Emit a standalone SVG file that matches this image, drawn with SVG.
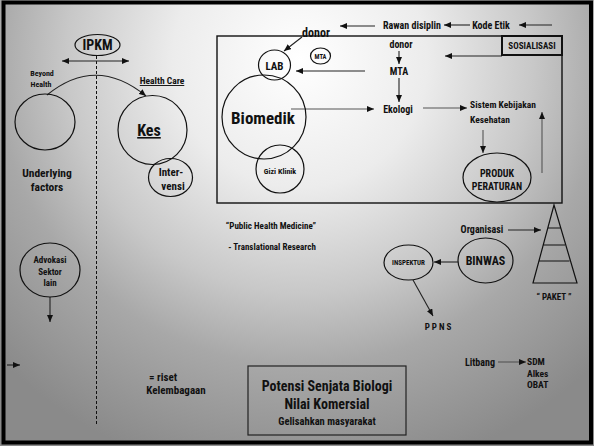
<svg xmlns="http://www.w3.org/2000/svg" width="594" height="446" viewBox="0 0 594 446">
<defs>
<radialGradient id="bg" gradientUnits="userSpaceOnUse" cx="300" cy="60" r="424">
<stop offset="0" stop-color="#ffffff"/>
<stop offset="0.3" stop-color="#ececec"/>
<stop offset="0.55" stop-color="#c8c8c8"/>
<stop offset="0.72" stop-color="#a8a8a8"/>
<stop offset="1" stop-color="#8a8a8a"/>
</radialGradient>
<marker id="arr" markerUnits="userSpaceOnUse" markerWidth="7" markerHeight="6" refX="7" refY="3" orient="auto-start-reverse">
<path d="M0,0 L7,3 L0,6 z" fill="#111"/>
</marker>
</defs>
<style>
text{font-family:"Liberation Sans Narrow","Roboto Condensed","Liberation Sans",Arial,sans-serif;font-weight:bold;fill:#111;text-anchor:middle}
.s{font-size:8px}
.m{font-size:10px}
.l{font-size:12px}
.ln{fill:none;stroke:#111;stroke-width:1.2}
.c{fill:none;stroke:#111;stroke-width:1.2}
.a{fill:none;stroke:#222;stroke-width:1.1;marker-end:url(#arr)}
.g{fill:none;stroke:#555;stroke-width:1.1;marker-end:url(#arr)}
</style>
<rect x="0" y="0" width="594" height="446" fill="url(#bg)"/>
<rect x="3.5" y="2.5" width="587.5" height="440" fill="none" stroke="#000" stroke-width="4"/>

<g id="connectors">
<line x1="96.5" y1="56" x2="96.5" y2="424" stroke="#111" stroke-width="1" stroke-dasharray="3,2"/>
<line x1="62" y1="61" x2="129" y2="61" class="a" marker-start="url(#arr)"/>
<path d="M47,95 Q96,55 146,96" class="a"/>
<line x1="50" y1="297" x2="50" y2="322" class="a"/>
<line x1="7" y1="365" x2="20" y2="365" class="a"/>
<line x1="375" y1="26" x2="340" y2="26" class="a"/>
<line x1="470" y1="25" x2="444" y2="25" class="a"/>
<line x1="552" y1="25" x2="519" y2="25" class="a"/>
<line x1="302" y1="37" x2="284" y2="51" class="a"/>
<line x1="365" y1="71" x2="296" y2="71" class="a"/>
<line x1="399" y1="51" x2="399" y2="64" class="a"/>
<line x1="399" y1="78" x2="399" y2="102" class="a"/>
<line x1="502" y1="56" x2="445" y2="56" class="a"/>
<line x1="291" y1="109" x2="374" y2="109" class="g"/>
<line x1="423" y1="108" x2="467" y2="108" class="g"/>
<line x1="483" y1="130" x2="483" y2="153" class="g"/>
<line x1="542" y1="173" x2="542" y2="112" class="g"/>
<line x1="508" y1="230" x2="541" y2="230" class="a"/>
<line x1="458" y1="262" x2="434" y2="262" class="a"/>
<line x1="413" y1="280" x2="433" y2="316" class="a"/>
<line x1="498" y1="362" x2="526" y2="362" class="g"/>
</g>

<g id="frame-box">
<rect x="217" y="36" width="345" height="167" fill="none" stroke="#111" stroke-width="1.4"/>
</g>

<g id="ipkm">
<ellipse cx="97.5" cy="45" rx="22.5" ry="10.5" class="c"/>
<text x="97.5" y="50" style="font-size:14px">IPKM</text>
</g>
<g id="beyond">
<text x="42" y="76" class="s">Beyond</text>
<text x="41" y="87" class="s">Health</text>
</g>
<g id="healthcare">
<text x="162" y="84" style="font-size:9.5px;text-decoration:underline">Health Care</text>
</g>
<g id="underlying">
<ellipse cx="45" cy="122" rx="30" ry="28" class="c"/>
<text x="47" y="177" style="font-size:11.5px">Underlying</text>
<text x="47" y="191" style="font-size:11.5px">factors</text>
</g>
<g id="kes">
<circle cx="152.5" cy="130" r="34.5" class="c"/>
<text x="149" y="136" style="font-size:16px;text-decoration:underline">Kes</text>
</g>
<g id="intervensi">
<ellipse cx="170.5" cy="177.5" rx="22" ry="19" class="c"/>
<text x="171" y="176" style="font-size:11px">Inter-</text>
<text x="173" y="190" style="font-size:11px">vensi</text>
</g>
<g id="advokasi">
<ellipse cx="50" cy="270" rx="30" ry="27" class="c"/>
<text x="50" y="263" style="font-size:9px">Advokasi</text>
<text x="50" y="275" style="font-size:9px">Sektor</text>
<text x="50" y="286" style="font-size:9px">lain</text>
</g>
<g id="riset">
<text x="163" y="381" style="font-size:11px">= riset</text>
<text x="176" y="394" style="font-size:11px">Kelembagaan</text>
</g>

<g id="donor-top">
<text x="316" y="37" style="font-size:12px">donor</text>
</g>
<g id="lab">
<ellipse cx="274.5" cy="65" rx="16" ry="15" class="c"/>
<text x="274.5" y="70" style="font-size:11px">LAB</text>
</g>
<g id="mta-circle">
<ellipse cx="320.5" cy="56" rx="10" ry="8" class="c"/>
<text x="320.5" y="59" style="font-size:6.5px">MTA</text>
</g>
<g id="biomedik">
<circle cx="264" cy="117" r="42" class="c"/>
<text x="263" y="124" style="font-size:17px">Biomedik</text>
</g>
<g id="gizi">
<circle cx="280" cy="169" r="24" class="c"/>
<text x="280" y="174" style="font-size:8px">Gizi Klinik</text>
</g>
<g id="rawan">
<text x="412" y="29" class="m">Rawan disiplin</text>
</g>
<g id="kode">
<text x="491" y="29" class="m">Kode Etik</text>
</g>
<g id="sosialisasi">
<rect x="502" y="36" width="60" height="19" fill="none" stroke="#111" stroke-width="2"/>
<text x="532" y="49" style="font-size:9px">SOSIALISASI</text>
</g>
<g id="donor-right">
<text x="401" y="48" class="m">donor</text>
</g>
<g id="mta">
<text x="399" y="75" class="m">MTA</text>
</g>
<g id="ekologi">
<text x="398" y="113" class="m">Ekologi</text>
</g>
<g id="sistem">
<text x="503" y="108" style="font-size:9.5px">Sistem Kebijakan</text>
<text x="490" y="123" style="font-size:9.5px">Kesehatan</text>
</g>
<g id="produk">
<ellipse cx="497" cy="177.5" rx="34" ry="24.5" class="c"/>
<text x="497" y="177" class="m">PRODUK</text>
<text x="497" y="190" class="m">PERATURAN</text>
</g>

<g id="phm">
<text x="271" y="229" style="font-size:9px">“Public Health Medicine”</text>
<text x="272" y="250" style="font-size:9px">- Translational Research</text>
</g>
<g id="potensi">
<rect x="248" y="366" width="158" height="69" fill="none" stroke="#222" stroke-width="1.2"/>
<text x="327" y="391" style="font-size:14px">Potensi Senjata Biologi</text>
<text x="327" y="409" style="font-size:14px">Nilai Komersial</text>
<text x="327" y="425" style="font-size:10.5px">Gelisahkan masyarakat</text>
</g>

<g id="organisasi">
<text x="482" y="233" class="m">Organisasi</text>
</g>
<g id="paket">
<path d="M554,205 L533,283 L577,283 Z M547.5,228 L560.5,228 M543,245 L565,245 M538.5,261 L569.5,261" fill="none" stroke="#111" stroke-width="1.2"/>
<text x="554" y="300" style="font-size:9px">“ PAKET ”</text>
</g>
<g id="binwas">
<ellipse cx="485.5" cy="260.5" rx="27.5" ry="22.5" class="c"/>
<text x="485.5" y="265" style="font-size:12px">BINWAS</text>
</g>
<g id="inspektur">
<ellipse cx="408.5" cy="262.5" rx="24.5" ry="17.5" class="c"/>
<text x="408.5" y="265" style="font-size:7px">INSPEKTUR</text>
</g>
<g id="ppns">
<text x="439" y="330" style="font-size:9px;letter-spacing:2px">PPNS</text>
</g>
<g id="litbang">
<text x="480" y="366" class="m">Litbang</text>
</g>
<g id="sdm">
<text x="527" y="365" style="font-size:9.5px;text-anchor:start">SDM</text>
<text x="527" y="377" style="font-size:9.5px;text-anchor:start">Alkes</text>
<text x="527" y="388" style="font-size:9.5px;text-anchor:start">OBAT</text>
</g>
</svg>
